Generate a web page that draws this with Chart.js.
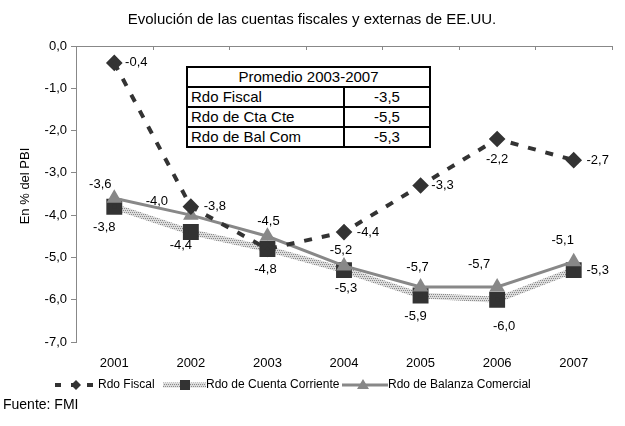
<!DOCTYPE html>
<html>
<head>
<meta charset="utf-8">
<script src="https://cdn.jsdelivr.net/npm/chart.js@4/dist/chart.umd.min.js"></script>
<style>
body{margin:0;background:#fff;}
#wrap{position:relative;width:625px;height:426px;}
#avg{position:absolute;left:186px;top:66px;border-collapse:collapse;background:#fff;
     font:15px "Liberation Sans",Arial,sans-serif;color:#000;}
#avg td{border:2px solid #000;height:18px;line-height:18px;padding:0 3px;white-space:nowrap;}
#avg td.v{text-align:center;width:78px;}
#avg td.n{width:149px;}
</style>
</head>
<body>
<div id="wrap">
    <canvas id="chart" width="625" height="426"></canvas>
    <table id="avg"></table>
</div>
<script>
const years = ["2001","2002","2003","2004","2005","2006","2007"];
const fiscal = [-0.4,-3.8,-4.8,-4.4,-3.3,-2.2,-2.7];
const cuentaCorriente = [-3.8,-4.4,-4.8,-5.3,-5.9,-6.0,-5.3];
const balanzaComercial = [-3.6,-4.0,-4.5,-5.2,-5.7,-5.7,-5.1];

const yMin = -7;
const yMax = 0;
const yStep = 1;

const tableTitle = "Promedio 2003-2007";
const tableNames = ["Rdo Fiscal","Rdo de Cta Cte","Rdo de Bal Com"];
const tableValues = ["-3,5","-5,5","-5,3"];

const FONT = '"Liberation Sans", Arial, sans-serif';
const fmt = v => v.toFixed(1).replace(".", ",");

// table
const avg = document.getElementById("avg");
avg.innerHTML = `<tr><td colspan="2" style="text-align:center">${tableTitle}</td></tr>` +
    tableNames.map((n, i) => `<tr><td class="n">${n}</td><td class="v">${tableValues[i]}</td></tr>`).join("");

// hatched stroke for cuenta corriente
function hatch(){
    const c = document.createElement("canvas");
    c.width = 4; c.height = 4;
    const g = c.getContext("2d");
    g.fillStyle = "#dcdcdc";
    g.fillRect(0,0,4,4);
    g.fillStyle = "#8a8a8a";
    g.fillRect(0,0,1,1); g.fillRect(2,0,1,1);
    g.fillRect(1,2,1,1); g.fillRect(3,2,1,1);
    return g.createPattern(c, "repeat");
}
const hatchPattern = hatch();

// label offsets [dx, dy] per dataset, null = no label
const labelOffsets = [
    [[22,0],[24,0],null,[24,0],[22,0],[0,20],[24,0]],
    [[-14,-14],[-34,-14],[1,-15],[-3,-15],[-3,-20],[-18,-23],[-11,-21]],
    [[-10,21],[-10,13],[-2,20],[2,18],[-5,21],[7,27],[24,0]]
];

const pointLabels = {
    id:"pointLabels",
    afterDatasetsDraw(chart){
        const ctx = chart.ctx;
        ctx.save();
        ctx.font = `13px ${FONT}`;
        ctx.fillStyle = "#000";
        ctx.textAlign = "center";
        ctx.textBaseline = "middle";
        chart.data.datasets.forEach((ds, di) => {
            const meta = chart.getDatasetMeta(di);
            meta.data.forEach((pt, i) => {
                const off = labelOffsets[di][i];
                if(!off) return;
                ctx.fillText(fmt(ds.data[i]), pt.x + off[0], pt.y + off[1]);
            });
        });
        ctx.restore();
    }
};

const decorations = {
    id:"decorations",
    beforeDatasetsDraw(chart){
        const ctx = chart.ctx;
        const y0 = chart.scales.y.getPixelForValue(0);
        const area = chart.chartArea;
        const step = (area.right - area.left) / years.length;
        ctx.save();
        ctx.strokeStyle = "#888";
        ctx.lineWidth = 1;
        ctx.beginPath();
        ctx.moveTo(area.left, y0 + 0.5);
        ctx.lineTo(area.right, y0 + 0.5);
        for(let i = 1; i <= years.length; i++){
            const bx = Math.round(area.left + i * step) + 0.5;
            ctx.moveTo(bx, y0);
            ctx.lineTo(bx, y0 + 4);
        }
        ctx.stroke();
        ctx.restore();
    },
    afterDraw(chart){
        const ctx = chart.ctx;
        ctx.save();
        ctx.fillStyle = "#000";
        ctx.textBaseline = "middle";

        ctx.font = `15px ${FONT}`;
        ctx.textAlign = "center";
        ctx.fillText("Evolución de las cuentas fiscales y externas de EE.UU.", 312, 20);

        ctx.save();
        ctx.translate(25, 186);
        ctx.rotate(-Math.PI / 2);
        ctx.font = `13px ${FONT}`;
        ctx.fillText("En % del PBI", 0, 0);
        ctx.restore();

        // legend
        const ly = 385;
        ctx.lineCap = "butt";

        ctx.strokeStyle = "#333";
        ctx.lineWidth = 4;
        ctx.setLineDash([6,10]);
        ctx.beginPath(); ctx.moveTo(55, ly); ctx.lineTo(95, ly); ctx.stroke();
        ctx.setLineDash([]);
        ctx.fillStyle = "#333";
        ctx.beginPath();
        ctx.moveTo(76, ly - 5); ctx.lineTo(81, ly); ctx.lineTo(76, ly + 5); ctx.lineTo(71, ly);
        ctx.closePath(); ctx.fill();

        ctx.strokeStyle = hatchPattern;
        ctx.lineWidth = 5;
        ctx.beginPath(); ctx.moveTo(163, ly); ctx.lineTo(206, ly); ctx.stroke();
        ctx.fillStyle = "#333";
        ctx.fillRect(180, ly - 5, 10, 10);

        ctx.strokeStyle = "#888";
        ctx.lineWidth = 3;
        ctx.beginPath(); ctx.moveTo(342, ly); ctx.lineTo(388, ly); ctx.stroke();
        ctx.fillStyle = "#888";
        ctx.beginPath();
        ctx.moveTo(363, ly - 6); ctx.lineTo(369, ly + 4); ctx.lineTo(357, ly + 4);
        ctx.closePath(); ctx.fill();

        ctx.fillStyle = "#000";
        ctx.font = `12px ${FONT}`;
        ctx.textAlign = "left";
        ctx.fillText("Rdo Fiscal", 98, ly);
        ctx.fillText("Rdo de Cuenta Corriente", 206, ly);
        ctx.fillText("Rdo de Balanza Comercial", 388, ly);

        ctx.font = `14px ${FONT}`;
        ctx.fillText("Fuente: FMI", 3, 405);
        ctx.restore();
    }
};

new Chart(document.getElementById("chart"), {
    type:"line",
    data:{
        labels:years,
        datasets:[
            {
                label:"Rdo Fiscal",
                data:fiscal,
                borderColor:"#333",
                borderWidth:4,
                borderDash:[8,10],
                pointStyle:"rectRot",
                pointRadius:5.5,
                pointBackgroundColor:"#333",
                pointBorderColor:"#333",
                order:0
            },
            {
                label:"Rdo de Balanza Comercial",
                data:balanzaComercial,
                borderColor:"#888",
                borderWidth:3,
                pointStyle:"triangle",
                pointRadius:6,
                pointBackgroundColor:"#888",
                pointBorderColor:"#888",
                order:1
            },
            {
                label:"Rdo de Cuenta Corriente",
                data:cuentaCorriente,
                borderColor:hatchPattern,
                borderWidth:6,
                pointStyle:"rect",
                pointRadius:7,
                pointBackgroundColor:"#333",
                pointBorderColor:"#333",
                order:2
            }
        ]
    },
    options:{
        responsive:false,
        animation:false,
        devicePixelRatio:1,
        layout:{padding:{top:46,right:0,bottom:0,left:0}},
        plugins:{
            legend:{display:false},
            tooltip:{enabled:false},
            title:{display:false}
        },
        scales:{
            x:{
                offset:true,
                grid:{display:false},
                border:{display:false},
                ticks:{
                    color:"#000",
                    padding:6,
                    font:{family:FONT, size:13}
                },
                afterFit(s){ s.height = 84; }
            },
            y:{
                min:yMin,
                max:yMax,
                grid:{drawOnChartArea:false, drawTicks:true, tickLength:5, color:"#888"},
                border:{color:"#888"},
                ticks:{
                    stepSize:yStep,
                    color:"#000",
                    padding:4,
                    font:{family:FONT, size:13},
                    callback:v => fmt(v)
                },
                afterFit(s){ s.width = 76; }
            }
        }
    },
    plugins:[decorations, pointLabels]
});
</script>
</body>
</html>
